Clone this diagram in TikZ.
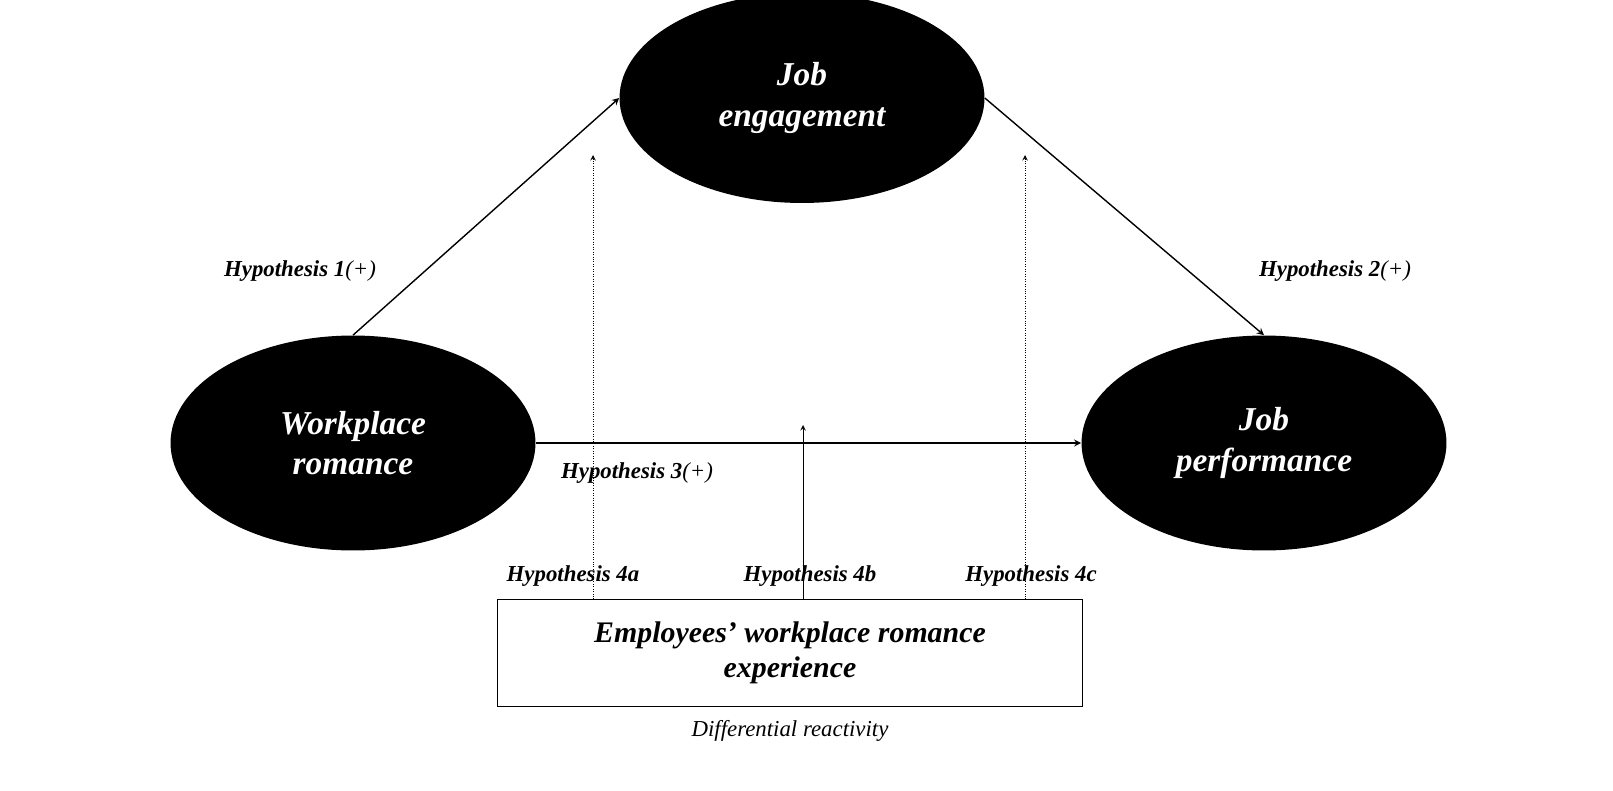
\documentclass[tikz,border=0pt]{standalone}
\usepackage{fontspec}
\setmainfont{Liberation Serif}
\usetikzlibrary{shapes.geometric, arrows}
\usetikzlibrary{positioning}

\begin{document}
\begin{tikzpicture}[x=0.02cm, y=-0.02cm]
\tikzstyle{construct} = [ellipse, fill=black, minimum width=7.3cm, minimum height=4.3cm, align=center, text=white, font=\fontsize{19}{23}\selectfont\bfseries\itshape]
\tikzstyle{moderator} = [rectangle, draw=black, minimum width=11.7cm, minimum height=2.14cm, align=center, font=\fontsize{17}{20}\selectfont\bfseries\itshape]
\tikzstyle{hyp} = [font=\fontsize{13}{15}\selectfont\bfseries\itshape]
\tikzstyle{arrow} = [thick,->,>=stealth]
\clip (0,0) rectangle (1613,791);

% Nodes
\node (engage) [construct, minimum height=4.2cm] at (802,98) {Job\\engagement};
\node (romance) [construct] at (353,443) {Workplace\\romance};
\node (perform) [construct] at (1264,443) {Job\\performance};
\node (exper) [moderator] at (790,653) {Employees\char"27{} workplace romance\\experience};
\node (react) [below=0.15cm of exper, font=\fontsize{13}{15}\selectfont\itshape] {Differential reactivity};

\node (h1) [hyp] at (300,271) {Hypothesis 1\textmd{(+)}};
\node (h2) [hyp] at (1335,271) {Hypothesis 2\textmd{(+)}};
\node (h3) [hyp] at (637,473) {Hypothesis 3\textmd{(+)}};
\node (h4a) [hyp] at (573,576) {Hypothesis 4a};
\node (h4b) [hyp] at (810,576) {Hypothesis 4b};
\node (h4c) [hyp] at (1031,576) {Hypothesis 4c};

\coordinate (ta) at (593,155);
\coordinate (tb) at (803,425);
\coordinate (tc) at (1025,155);

% Arrows
\draw [arrow] (romance.north) -- (engage.west);
\draw [arrow] (engage.east) -- (perform.north);
\draw [arrow] (romance.east) -- (perform.west);
\draw [->,>=stealth, densely dotted] (exper.north -| ta) -- (ta);
\draw [->,>=stealth] (exper.north -| tb) -- (tb);
\draw [->,>=stealth, densely dotted] (exper.north -| tc) -- (tc);

\end{tikzpicture}
\end{document}
